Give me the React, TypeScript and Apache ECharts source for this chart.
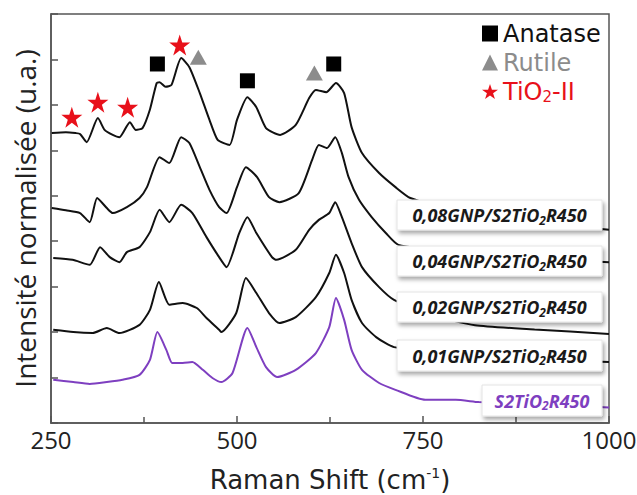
import React, { useEffect, useRef } from "react";
import * as echarts from "echarts";

// Raman shift axis
const xTicks = [250, 500, 750, 1000];

// Spectra (offset, normalised intensity), [Raman shift cm-1, intensity]
const gnp008: [number, number][] = [[251,6.38],[270,6.40],[283,6.38],[289,6.36],[298,6.18],[313,6.71],[322,6.45],[333,6.34],[342,6.29],[356,6.62],[364,6.45],[373,6.49],[383,6.9],[392,7.48],[396,7.50],[404,7.40],[412,7.44],[425,8.03],[436,7.83],[450,7.26],[463,6.67],[474,6.23],[490,6.12],[500,6.67],[514,7.17],[526,6.95],[539,6.49],[558,6.34],[579,6.56],[597,7.15],[606,7.33],[620,7.28],[633,7.48],[644,7.26],[654,6.51],[668,5.94],[691,5.50],[713,5.19],[733,4.95],[800,4.62],[900,4.42],[1000,4.25]];
const gnp004: [number, number][] = [[251,4.73],[270,4.68],[289,4.62],[302,4.42],[312,4.95],[325,4.73],[333,4.62],[352,4.75],[369,4.95],[379,5.19],[396,5.85],[409,5.72],[425,6.29],[436,6.16],[450,5.63],[463,5.13],[476,4.75],[486,4.62],[500,5.19],[512,5.63],[527,5.41],[543,4.97],[557,4.86],[583,5.06],[601,5.79],[610,6.12],[621,6.05],[632,6.29],[641,5.94],[650,5.41],[664,4.91],[681,4.53],[700,4.18],[717,3.92],[800,3.75],[900,3.62],[1000,3.54]];
const gnp002: [number, number][] = [[253,3.63],[279,3.59],[302,3.48],[316,3.87],[329,3.65],[342,3.54],[352,3.76],[369,3.87],[383,4.20],[396,4.69],[409,4.42],[425,4.80],[440,4.62],[459,4.09],[476,3.65],[486,3.43],[503,4.18],[514,4.53],[526,4.18],[547,3.65],[553,3.59],[579,3.81],[597,4.25],[610,4.47],[624,4.62],[632,4.86],[641,4.53],[654,3.96],[668,3.43],[691,2.99],[711,2.71],[760,2.38],[820,2.15],[900,2.06],[1000,1.96]];
const gnp001: [number, number][] = [[253,2.05],[280,2.00],[306,1.98],[325,2.09],[342,1.98],[369,2.16],[383,2.49],[395,3.10],[409,2.60],[427,2.64],[446,2.53],[459,2.31],[476,2.05],[479,2.00],[499,2.42],[512,3.19],[526,2.86],[543,2.42],[557,2.20],[579,2.33],[606,2.77],[624,3.30],[633,3.70],[644,3.30],[654,2.71],[668,2.20],[687,1.89],[711,1.67],[800,1.50],[900,1.40],[1000,1.34]];
const s2tio2: [number, number][] = [[253,0.95],[280,0.90],[302,0.86],[325,0.90],[346,0.95],[369,1.06],[383,1.39],[393,2.00],[405,1.61],[413,1.32],[427,1.32],[440,1.34],[454,1.17],[467,0.99],[479,0.90],[494,1.10],[514,2.09],[526,1.67],[539,1.23],[554,1.01],[579,1.17],[606,1.54],[624,2.11],[633,2.75],[644,2.27],[654,1.61],[668,1.17],[691,0.88],[713,0.73],[753,0.51],[794,0.51],[825,0.46],[900,0.40],[989,0.35],[1000,0.34]];

// Phase markers
const anatasePeaks: [number, number][] = [[393,7.90],[514,7.53],[630,7.90]];
const rutilePeaks: [number, number][] = [[448,8.05],[604,7.70]];
const tio2IIPeaks: [number, number][] = [[278,6.73],[313,7.06],[353,6.95],[423,8.32]];

const sampleNames = ["0,08GNP/S2TiO", "0,04GNP/S2TiO", "0,02GNP/S2TiO", "0,01GNP/S2TiO", "S2TiO"];

const STAR = "path://M50,0 L61.8,35.1 L98.9,35.1 L68.8,56.8 L80.3,91.9 L50,70.3 L19.7,91.9 L31.2,56.8 L1.1,35.1 L38.2,35.1 Z";
const FONT = "'Open Sans', 'DejaVu Sans', sans-serif";
const FONT2 = "'DejaVu Sans', sans-serif";
const PURPLE = "#7e3fc0";
const RED = "#e8101a";
const GRAY = "#8c8c8c";

const boxes = [
  { x: 397, y: 200, w: 205, h: 30, color: "#1a1a1a" },
  { x: 397, y: 246, w: 205, h: 30, color: "#1a1a1a" },
  { x: 397, y: 292, w: 205, h: 30, color: "#1a1a1a" },
  { x: 397, y: 340, w: 205, h: 31, color: "#1a1a1a" },
  { x: 482, y: 385, w: 120, h: 31, color: PURPLE },
];

export default function App() {
  const ref = useRef<HTMLDivElement>(null);
  useEffect(() => {
    if (!ref.current) return;
    const chart = echarts.init(ref.current, undefined, { renderer: "svg" });
    const lineSeries = [gnp008, gnp004, gnp002, gnp001, s2tio2].map((d, i) => ({
      type: "line",
      name: sampleNames[i],
      data: d,
      showSymbol: false,
      smooth: 0.2,
      lineStyle: { color: i === 4 ? PURPLE : "#111", width: 2 },
      z: 2,
    }));
    const graphics = boxes.map((b, i) => ({
      type: "group",
      z: 100,
      children: [
        {
          type: "rect",
          shape: { x: b.x, y: b.y, width: b.w, height: b.h },
          style: {
            fill: "#fff",
            stroke: "#e4e4e4",
            lineWidth: 1,
            shadowBlur: 4,
            shadowOffsetX: 2,
            shadowOffsetY: 3,
            shadowColor: "rgba(0,0,0,0.35)",
          },
          z: 100,
        },
        {
          type: "text",
          x: b.x + b.w / 2,
          y: b.y + b.h / 2,
          z: 101,
          style: {
            text: `{t|${sampleNames[i]}}{s|2}{t|R450}`,
            align: "center",
            verticalAlign: "middle",
            fill: b.color,
            rich: {
              t: { fontSize: 18, fontStyle: "italic", fontWeight: "bold", fontFamily: FONT, fill: b.color, lineHeight: 22 },
              s: { fontSize: 12, fontStyle: "italic", fontWeight: "bold", fontFamily: FONT, fill: b.color, lineHeight: 12, verticalAlign: "bottom" },
            },
          },
        },
      ],
    }));
    chart.setOption({
      animation: false,
      backgroundColor: "#fff",
      grid: {
        left: 51, right: 28, top: 14, bottom: 72,
        show: true, borderColor: "#555", borderWidth: 1.5,
        containLabel: false, outerBoundsMode: "none",
      },
      xAxis: {
        type: "value",
        min: 250,
        max: 1000,
        interval: 250,
        name: "{a|Raman Shift (cm}{s|-1}{a|)}",
        nameLocation: "middle",
        nameGap: 43,
        nameTextStyle: {
          rich: {
            a: { fontSize: 26, fontFamily: FONT2, color: "#222", lineHeight: 28 },
            s: { fontSize: 14, fontFamily: FONT2, color: "#222", lineHeight: 15, verticalAlign: "top" },
          },
        },
        axisLine: { lineStyle: { color: "#555", width: 1.5 } },
        axisTick: { inside: true, length: 7, lineStyle: { color: "#555", width: 1.5 } },
        minorTick: { show: true, splitNumber: 2, length: 6, lineStyle: { color: "#555", width: 1.5 } },
        axisLabel: { fontSize: 24, fontFamily: FONT, color: "#222", margin: 4, formatter: (v: number) => (xTicks.includes(v) ? String(v) : "") },
        splitLine: { show: false },
      },
      yAxis: {
        type: "value",
        min: 0,
        max: 9,
        interval: 1,
        name: "Intensité normalisée (u.a.)",
        nameLocation: "middle",
        nameGap: 12,
        nameTextStyle: { fontSize: 28, fontFamily: FONT, color: "#222" },
        axisLine: { lineStyle: { color: "#555", width: 1.5 } },
        axisTick: { inside: true, length: 7, lineStyle: { color: "#555", width: 1.5 } },
        axisLabel: { show: false },
        splitLine: { show: false },
      },
      legend: {
        orient: "vertical",
        left: 477,
        top: 16,
        itemWidth: 16,
        itemHeight: 16,
        itemGap: 4,
        selectedMode: false,
        textStyle: {
          fontSize: 24,
          lineHeight: 25,
          fontFamily: FONT2,
          rich: {
            a: { fontSize: 24, fontFamily: FONT2, color: RED, lineHeight: 25 },
            s: { fontSize: 15, fontFamily: FONT2, color: RED, lineHeight: 10, verticalAlign: "bottom" },
          },
        },
        formatter: (name: string) => (name === "TiO2-II" ? "{a|TiO}{s|2}{a|-II}" : name),
        data: [
          { name: "Anatase", textStyle: { color: "#111" } },
          { name: "Rutile", textStyle: { color: GRAY } },
          { name: "TiO2-II", textStyle: { color: RED } },
        ],
      },
      series: [
        ...lineSeries,
        { type: "scatter", name: "Anatase", data: anatasePeaks, symbol: "rect", symbolSize: 15, itemStyle: { color: "#000", opacity: 1 }, z: 5 },
        { type: "scatter", name: "Rutile", data: rutilePeaks, symbol: "triangle", symbolSize: [17, 15], itemStyle: { color: GRAY, opacity: 1 }, z: 5 },
        { type: "scatter", name: "TiO2-II", data: tio2IIPeaks, symbol: STAR, symbolSize: 21, itemStyle: { color: RED, opacity: 1 }, z: 5 },
      ],
      graphic: graphics,
    });
    return () => chart.dispose();
  }, []);
  return <div ref={ref} style={{ width: 637, height: 495, position: "absolute", left: 0, top: 0 }} />;
}
